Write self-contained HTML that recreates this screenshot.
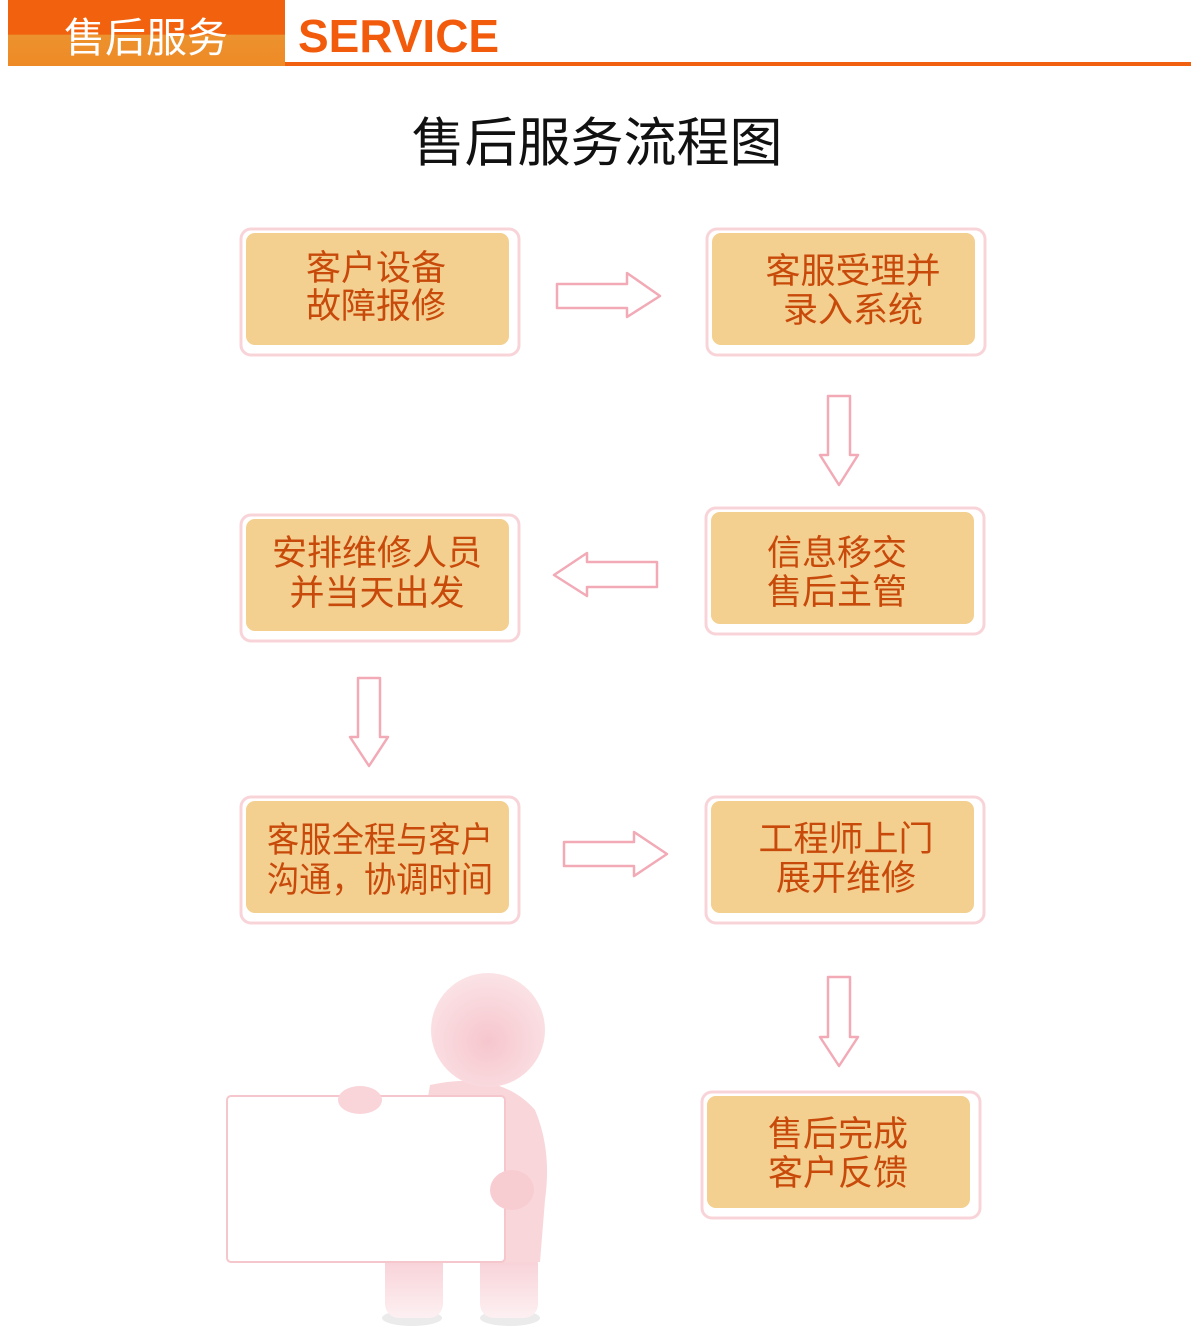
<!DOCTYPE html>
<html><head><meta charset="utf-8"><style>
html,body{margin:0;padding:0;background:#fff;width:1200px;height:1337px;overflow:hidden}
svg{display:block}
text{font-family:"Liberation Sans","Noto Sans CJK SC",sans-serif}
</style></head><body>
<svg width="1200" height="1337" viewBox="0 0 1200 1337" xmlns="http://www.w3.org/2000/svg">
<defs>
<linearGradient id="hd" x1="0" y1="0" x2="0" y2="1">
<stop offset="0" stop-color="#f2620e"/><stop offset="0.52" stop-color="#f2620e"/><stop offset="0.53" stop-color="#ec922e"/><stop offset="1" stop-color="#ee8a26"/></linearGradient>
<radialGradient id="pk" cx="0.5" cy="0.6" r="0.6"><stop offset="0" stop-color="#f6c6cd"/><stop offset="1" stop-color="#fbe3e6"/></radialGradient>
<linearGradient id="fade" x1="0" y1="0" x2="0" y2="1"><stop offset="0" stop-color="#f7cdd3"/><stop offset="1" stop-color="#fdf0f2"/></linearGradient>
</defs>
<rect x="8" y="0" width="277" height="66" fill="url(#hd)"/>
<text x="64" y="52" font-size="41" fill="#fff">售后服务</text>
<text x="298" y="52" font-size="46" font-weight="bold" fill="#f25a0c">SERVICE</text>
<rect x="285" y="62" width="906" height="4" fill="#f0600e"/>
<text x="597" y="161" font-size="53" text-anchor="middle" fill="#111">售后服务流程图</text>

<g fill="#fff" stroke="#f8d4d9" stroke-width="3">
<rect x="241" y="229" width="278" height="126" rx="10"/>
<rect x="707" y="229" width="278" height="126" rx="10"/>
<rect x="241" y="515" width="278" height="126" rx="10"/>
<rect x="706" y="508" width="278" height="126" rx="10"/>
<rect x="241" y="797" width="278" height="126" rx="10"/>
<rect x="706" y="797" width="278" height="126" rx="10"/>
<rect x="702" y="1092" width="278" height="126" rx="10"/>
</g>
<g fill="#f3cf90">
<rect x="246" y="233" width="263" height="112" rx="9"/>
<rect x="712" y="233" width="263" height="112" rx="9"/>
<rect x="246" y="519" width="263" height="112" rx="9"/>
<rect x="711" y="512" width="263" height="112" rx="9"/>
<rect x="246" y="801" width="263" height="112" rx="9"/>
<rect x="711" y="801" width="263" height="112" rx="9"/>
<rect x="707" y="1096" width="263" height="112" rx="9"/>
</g>
<g font-size="35" fill="#c84a0a" text-anchor="middle">
<text x="376" y="280">客户设备</text><text x="376" y="318">故障报修</text>
<text x="853" y="283">客服受理并</text><text x="853" y="322">录入系统</text>
<text x="377" y="565">安排维修人员</text><text x="377" y="605">并当天出发</text>
<text x="837" y="565">信息移交</text><text x="837" y="604">售后主管</text>
<text x="380" y="852" textLength="226" lengthAdjust="spacingAndGlyphs">客服全程与客户</text><text x="380" y="892" textLength="226" lengthAdjust="spacingAndGlyphs">沟通，协调时间</text>
<text x="846" y="851">工程师上门</text><text x="846" y="890">展开维修</text>
<text x="838" y="1146">售后完成</text><text x="838" y="1185">客户反馈</text>
</g>
<g fill="#fff" stroke="#f2aab6" stroke-width="2.5" stroke-linejoin="round">
<polygon points="557,284 627,284 627,273 660,296 627,317 627,308 557,308"/>
<polygon points="657,562 587,562 587,553 554,575 587,596 587,587 657,587"/>
<polygon points="564,842 634,842 634,832 667,854 634,876 634,866 564,866"/>
<polygon points="828,396 850,396 850,455 858,455 839,485 820,455 828,455"/>
<polygon points="358,678 380,678 380,737 388,737 369,766 350,737 358,737"/>
<polygon points="828,977 850,977 850,1037 858,1037 839,1066 820,1037 828,1037"/>
</g>
<g>
<ellipse cx="412" cy="1318" rx="30" ry="8" fill="#ecebeb"/>
<ellipse cx="510" cy="1318" rx="30" ry="8" fill="#ecebeb"/>
<rect x="385" y="1250" width="58" height="68" rx="14" fill="url(#fade)"/>
<rect x="480" y="1250" width="58" height="68" rx="14" fill="url(#fade)"/>
<path d="M430,1085 Q500,1070 535,1110 Q552,1150 545,1200 L540,1262 L400,1262 Z" fill="#f9d6da"/>
<circle cx="488" cy="1030" r="57" fill="url(#pk)"/>
<rect x="227" y="1096" width="278" height="166" rx="4" fill="#fff" stroke="#f5c6cc" stroke-width="2"/>
<ellipse cx="360" cy="1100" rx="22" ry="14" fill="#f9d4d9"/>
<ellipse cx="512" cy="1190" rx="22" ry="20" fill="#f7cdd2"/>
</g>
</svg>
</body></html>
